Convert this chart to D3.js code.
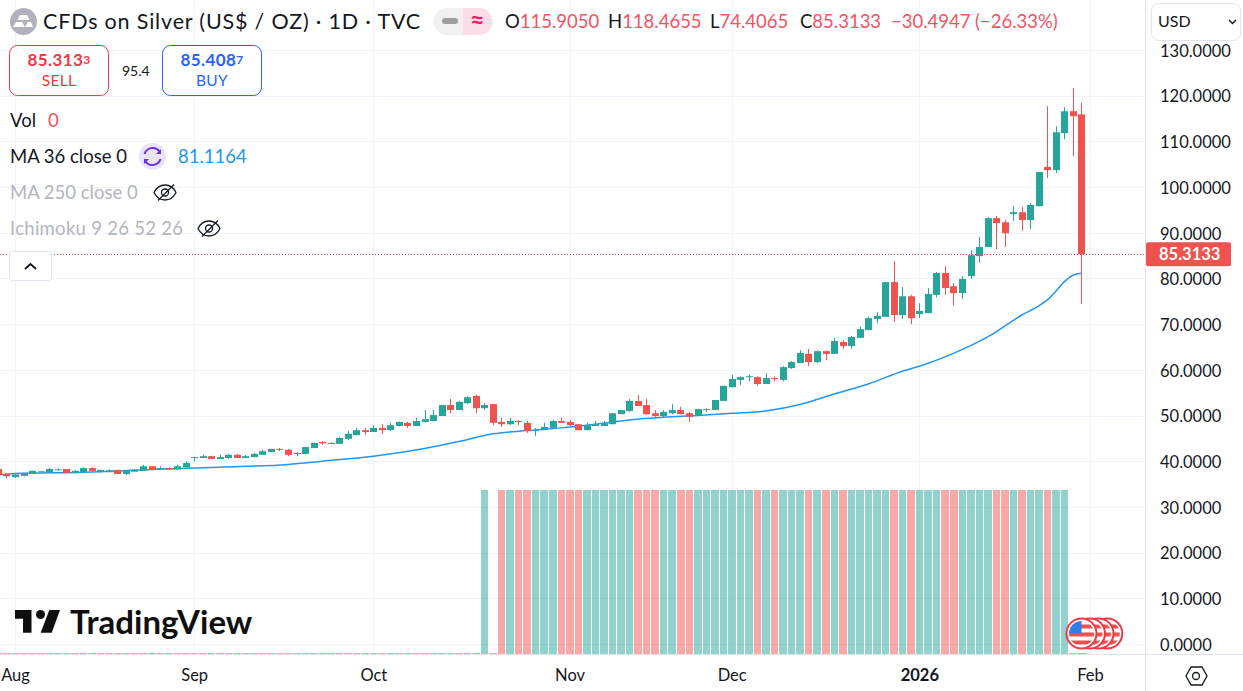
<!DOCTYPE html>
<html lang="en">

<head>
    <meta charset="UTF-8">
    <title>CFDs on Silver</title>
    <script src="https://cdn.jsdelivr.net/npm/d3@7/dist/d3.min.js"></script>
    <style>
        html, body {
            margin: 0;
            padding: 0;
            background: #fff;
            overflow: hidden;
        }

        svg {
            display: block;
        }

        text {
            font-family: Lato, "Noto Sans", sans-serif;
            fill: #131722;
        }

        .tick text {
            font-size: 16.5px;
        }
    </style>
</head>

<body>
    <script>
        // bar number 0 is 1 Aug 2025, the last one is 30 Jan 2026
        const barNumbers = d3.range(-2, 126);

        const opens = [
            38.3, 37.2, 36.5, 36.8, 37.3, 37.6, 37.6, 38.1, 38.3, 37.4,
            37.6, 38.5, 37.7, 37.6, 38.1, 37.2, 37.7, 37.9, 38.9, 38.3,
            38.5, 38.2, 38.7, 40.8, 40.7, 41.1, 40.5, 40.7, 41.4, 40.7,
            40.9, 41.4, 42.0, 42.7, 42.5, 41.6, 41.6, 42.9, 44.2, 44.0,
            43.8, 44.9, 45.7, 46.8, 46.4, 47.3, 46.8, 47.7, 48.4, 47.7,
            48.6, 48.8, 49.9, 52.3, 51.2, 52.7, 54.3, 51.6, 52.5, 48.6,
            48.1, 48.8, 48.4, 46.6, 46.8, 47.3, 48.8, 48.6, 48.1, 46.8,
            47.7, 47.7, 48.1, 50.3, 51.0, 53.2, 52.3, 50.5, 49.9, 50.5,
            51.2, 50.5, 49.9, 51.2, 51.2, 53.2, 56.2, 57.8, 58.4, 58.4,
            56.9, 58.2, 57.8, 60.4, 61.5, 63.5, 61.7, 64.1, 63.5, 66.1,
            65.2, 67.0, 68.7, 71.1, 71.6, 79.2, 72.0, 76.1, 72.2, 72.4,
            76.4, 81.2, 78.3, 76.8, 80.5, 84.9, 86.9, 93.2, 92.3, 94.1,
            94.5, 92.8, 95.8, 104.4, 103.7, 111.8, 116.6, 115.905
        ];
        const highs = [
            38.5, 37.3, 37.2, 37.4, 37.9, 37.8, 38.5, 38.5, 38.3, 38.1,
            38.7, 38.7, 38.1, 38.2, 38.1, 37.9, 38.3, 39.2, 38.9, 38.9,
            38.7, 39.2, 40.0, 41.0, 41.4, 41.2, 41.4, 41.6, 41.6, 41.4,
            41.8, 42.5, 42.7, 42.9, 42.7, 42.0, 43.2, 44.1, 44.4, 44.2,
            45.3, 46.6, 47.3, 47.3, 47.9, 48.1, 48.4, 48.7, 48.6, 49.5,
            51.2, 51.2, 52.3, 53.6, 53.2, 54.3, 54.5, 52.7, 52.6, 49.5,
            49.5, 49.0, 48.8, 47.3, 48.4, 49.0, 49.5, 49.0, 48.2, 48.4,
            48.8, 48.8, 50.5, 51.2, 53.6, 54.5, 53.6, 51.2, 51.2, 52.5,
            51.9, 50.8, 51.5, 51.6, 53.4, 56.5, 58.9, 58.6, 58.9, 58.6,
            59.3, 58.6, 60.8, 61.9, 64.3, 64.6, 64.2, 64.2, 67.0, 66.5,
            67.4, 69.4, 71.6, 72.6, 79.2, 83.8, 78.1, 76.4, 74.6, 77.9,
            81.4, 82.7, 79.0, 80.5, 86.2, 89.1, 93.4, 93.7, 92.8, 95.8,
            95.6, 96.5, 103.3, 117.7, 113.3, 117.5, 121.7, 118.4655
        ];
        const lows = [
            36.9, 36.3, 36.3, 36.7, 37.3, 37.6, 37.6, 38.0, 37.4, 37.4,
            37.5, 37.8, 37.5, 37.6, 37.2, 37.0, 37.7, 37.9, 38.3, 38.3,
            38.1, 38.2, 38.7, 40.0, 40.7, 40.5, 40.5, 40.5, 40.7, 40.7,
            40.9, 41.4, 42.0, 42.2, 41.1, 41.1, 41.5, 42.9, 43.6, 43.8,
            43.8, 44.6, 45.7, 45.7, 46.4, 46.0, 46.6, 47.6, 47.3, 47.7,
            48.5, 48.8, 49.9, 50.5, 51.2, 52.5, 50.5, 51.2, 47.9, 47.5,
            47.9, 47.9, 46.2, 45.5, 46.8, 47.3, 48.4, 47.7, 46.8, 46.8,
            47.7, 47.7, 48.1, 50.3, 50.8, 52.1, 50.1, 49.7, 49.5, 50.3,
            50.3, 48.6, 49.9, 50.8, 51.2, 53.2, 56.2, 56.7, 57.5, 56.5,
            56.9, 57.5, 57.5, 60.2, 61.5, 60.8, 61.5, 62.1, 63.5, 64.6,
            64.6, 67.0, 68.7, 70.2, 71.6, 70.5, 71.1, 70.0, 71.3, 72.4,
            75.9, 76.4, 74.0, 75.5, 79.9, 83.4, 86.9, 86.4, 86.9, 92.6,
            90.4, 90.8, 95.8, 102.0, 103.1, 110.5, 106.8, 74.4065
        ];
        const closes = [
            37.0, 36.7, 37.1, 37.4, 37.9, 37.8, 38.3, 38.2, 37.4, 37.9,
            38.5, 37.9, 38.1, 38.0, 37.2, 37.9, 38.1, 38.9, 38.3, 38.5,
            38.2, 38.9, 39.6, 40.9, 41.1, 40.5, 40.9, 41.4, 40.7, 41.1,
            41.6, 42.2, 42.7, 42.5, 41.4, 41.8, 43.1, 44.0, 43.9, 43.9,
            45.1, 46.0, 46.8, 46.4, 47.3, 46.8, 47.9, 48.6, 47.7, 48.8,
            49.2, 50.1, 52.3, 51.2, 53.0, 54.0, 51.6, 52.3, 48.4, 48.1,
            48.8, 48.6, 46.6, 46.8, 47.5, 48.8, 48.4, 47.9, 46.8, 47.9,
            48.1, 48.3, 50.5, 51.2, 53.2, 52.1, 50.3, 49.9, 50.8, 51.2,
            50.3, 49.7, 51.4, 51.4, 53.4, 56.5, 58.0, 58.4, 58.6, 56.9,
            58.2, 58.0, 60.6, 61.7, 63.7, 61.7, 64.1, 63.5, 66.3, 65.2,
            67.2, 68.9, 71.3, 71.8, 79.2, 72.0, 76.1, 71.3, 72.9, 76.6,
            81.2, 77.9, 76.8, 79.9, 85.1, 86.9, 93.2, 92.1, 89.9, 94.5,
            92.8, 96.1, 103.3, 103.7, 112.0, 116.6, 115.5, 85.3133
        ];
        // the broker reports flat tick volume: either nothing or a full bar
        const volumes = [
            0, 0, 0, 0, 0, 0, 0, 0, 0, 0,
            0, 0, 0, 0, 0, 0, 0, 0, 0, 0,
            0, 0, 0, 0, 0, 0, 0, 0, 0, 0,
            0, 0, 0, 0, 0, 0, 0, 0, 0, 0,
            0, 0, 0, 0, 0, 0, 0, 0, 0, 0,
            0, 0, 0, 0, 0, 0, 0, 1, 0, 1,
            1, 1, 1, 1, 1, 1, 1, 1, 1, 1,
            1, 1, 1, 1, 1, 1, 1, 1, 1, 1,
            1, 1, 1, 1, 1, 1, 1, 1, 1, 1,
            1, 1, 1, 1, 1, 1, 1, 1, 1, 1,
            1, 1, 1, 1, 1, 1, 1, 1, 1, 1,
            1, 1, 1, 1, 1, 1, 1, 1, 1, 1,
            1, 1, 1, 1, 1, 1, 0, 0
        ];

        const maBars = [-2, 0, 8, 16, 24, 32, 36, 42, 48, 52, 56, 60, 64, 68, 72, 76, 80, 84, 88, 92, 96, 100, 104, 106, 110, 114, 118, 120, 121, 122, 123, 124, 125];
        const maValues = [37.0, 37.3, 37.6, 38.2, 38.7, 39.3, 40.0, 41.1, 42.8, 44.3, 46.0, 46.7, 47.3, 48.1, 49.0, 49.6, 50.0, 50.5, 51.0, 52.4, 54.7, 56.9, 59.7, 60.8, 63.6, 67.2, 72.0, 74.0, 75.3, 77.2, 79.3, 80.7, 81.1164];

        const priceTicks = [0, 10, 20, 30, 40, 50, 60, 70, 80, 90, 100, 110, 120, 130];
        const timeTickBars = [0, 21, 42, 65, 84, 106, 126];
        const timeTickLabels = ["Aug", "Sep", "Oct", "Nov", "Dec", "2026", "Feb"];
        const lastPrice = 85.3133;

        const width = 1243, height = 691;
        const plotRight = 1145, plotBottom = 654;
        const upColor = "#26a69a", downColor = "#ef5350";
        const gridColor = "#f0f3fa", borderColor = "#e0e3eb";

        const svg = d3.select("body").append("svg")
            .attr("width", width)
            .attr("height", height);

        const xscale = d3.scaleLinear().domain([0, 126]).range([15, 1090]);
        const yscale = d3.scaleLinear().domain([0, 130]).range([644, 50]);
        const volscale = d3.scaleLinear().domain([0, 1]).range([654, 490]);

        const bars = barNumbers.map((n, i) => ({
            n, open: opens[i], high: highs[i], low: lows[i], close: closes[i], vol: volumes[i]
        }));
        const barColor = d => d.close >= d.open ? upColor : downColor;

        // grid
        svg.append("g").selectAll("line").data(priceTicks).enter().append("line")
            .attr("x1", 0).attr("x2", plotRight)
            .attr("y1", d => Math.round(yscale(d)) + 0.5).attr("y2", d => Math.round(yscale(d)) + 0.5)
            .attr("stroke", gridColor);
        svg.append("g").selectAll("line").data(timeTickBars).enter().append("line")
            .attr("x1", d => Math.round(xscale(d)) + 0.5).attr("x2", d => Math.round(xscale(d)) + 0.5)
            .attr("y1", 0).attr("y2", plotBottom)
            .attr("stroke", gridColor);

        // volume, snapped to whole pixels so a one pixel gap stays between bars
        const volLeft = n => Math.round(xscale(n) - 3.5);
        svg.append("g").selectAll("rect").data(bars).enter().append("rect")
            .attr("x", d => volLeft(d.n))
            .attr("width", d => volLeft(d.n + 1) - volLeft(d.n) - 1)
            .attr("y", d => d.vol > 0 ? volscale(d.vol) : plotBottom - 1)
            .attr("height", d => d.vol > 0 ? plotBottom - volscale(d.vol) : 1)
            .attr("fill", barColor)
            .attr("opacity", 0.5);

        // moving average
        const maLine = d3.line()
            .x(d => xscale(d[0]))
            .y(d => yscale(d[1]))
            .curve(d3.curveMonotoneX);
        svg.append("path")
            .attr("d", maLine(maBars.map((b, i) => [b, maValues[i]])))
            .attr("fill", "none")
            .attr("stroke", "#2196f3")
            .attr("stroke-width", 1.5);

        // candles
        const candles = svg.append("g").selectAll("g").data(bars).enter().append("g");
        candles.append("rect")
            .attr("x", d => Math.round(xscale(d.n)))
            .attr("width", 1)
            .attr("y", d => yscale(d.high))
            .attr("height", d => yscale(d.low) - yscale(d.high))
            .attr("fill", barColor);
        candles.append("rect")
            .attr("x", d => Math.round(xscale(d.n)) - 3)
            .attr("width", 7)
            .attr("y", d => yscale(Math.max(d.open, d.close)))
            .attr("height", d => Math.max(1, Math.abs(yscale(d.open) - yscale(d.close))))
            .attr("fill", barColor);

        // last price line
        svg.append("line")
            .attr("x1", 0).attr("x2", plotRight)
            .attr("y1", Math.floor(yscale(lastPrice)) + 0.5).attr("y2", Math.floor(yscale(lastPrice)) + 0.5)
            .attr("stroke", "#f23645")
            .attr("stroke-dasharray", "1 2");

        // axes
        const yaxis = d3.axisRight(yscale)
            .tickValues(priceTicks)
            .tickFormat(d => d.toFixed(4))
            .tickSize(0)
            .tickPadding(0);
        svg.append("g").attr("transform", "translate(1160,1)").call(yaxis)
            .call(g => g.select(".domain").remove());

        const xaxis = d3.axisBottom(xscale)
            .tickValues(timeTickBars)
            .tickFormat((d, i) => timeTickLabels[i])
            .tickSize(0)
            .tickPadding(0);
        svg.append("g").attr("transform", "translate(0,669)").call(xaxis)
            .call(g => g.select(".domain").remove())
            .selectAll("text")
            .style("font-weight", (d, i) => timeTickLabels[i] === "2026" ? "700" : "400");

        svg.append("line").attr("x1", 0).attr("x2", width).attr("y1", plotBottom + 0.5).attr("y2", plotBottom + 0.5).attr("stroke", borderColor);
        svg.append("line").attr("x1", plotRight + 0.5).attr("x2", plotRight + 0.5).attr("y1", 0).attr("y2", height).attr("stroke", borderColor);

        // price tag
        svg.append("rect").attr("x", 1146).attr("y", yscale(lastPrice) - 12).attr("width", 85).attr("height", 24).attr("rx", 2).attr("fill", "#f0534f");
        svg.append("text").attr("x", 1159).attr("y", yscale(lastPrice) + 6).text("85.3133")
            .style("fill", "#fff").style("font-size", "16.5px").style("font-weight", "700");

        // currency box
        svg.append("rect").attr("x", 1151.5).attr("y", 3.5).attr("width", 89).attr("height", 37).attr("rx", 7).attr("fill", "#fff").attr("stroke", borderColor);
        svg.append("text").attr("x", 1158).attr("y", 27).text("USD").style("font-size", "16px");
        svg.append("path").attr("d", "M1229 20l3.5 3.5l3.5 -3.5").attr("fill", "none").attr("stroke", "#131722").attr("stroke-width", 1.5);

        // settings hexagon
        svg.append("path").attr("d", "M1186 676l5 -9h11l5 9l-5 9h-11z").attr("fill", "none").attr("stroke", "#131722").attr("stroke-width", 1.3);
        svg.append("circle").attr("cx", 1196).attr("cy", 676).attr("r", 3.5).attr("fill", "none").attr("stroke", "#131722").attr("stroke-width", 1.3);

        // legend: title row
        const label = (x, y, str, size, color, weight) => svg.append("text")
            .attr("x", x).attr("y", y).text(str)
            .style("font-size", size + "px")
            .style("fill", color)
            .style("font-weight", weight || 400);

        svg.append("circle").attr("cx", 23.5).attr("cy", 21.5).attr("r", 13.5).attr("fill", "#b2b0bd");
        svg.append("path").attr("d", "M20 15h7l2.5 5h-12zM13 27l3 -5h6l3 5zM25 27l3 -5h3l2 5z").attr("fill", "#fff");
        label(43, 29, "CFDs on Silver (US$ / OZ) · 1D · TVC", 21.5, "#131722").style("letter-spacing", "0.82px");

        svg.append("path").attr("d", "M463 8h-16a13.5 13.5 0 0 0 0 27h16z").attr("fill", "#f0f0f0");
        svg.append("path").attr("d", "M463 8h16a13.5 13.5 0 0 1 0 27h-16z").attr("fill", "#fbdde8");
        svg.append("rect").attr("x", 442).attr("y", 18).attr("width", 16).attr("height", 6).attr("rx", 3).attr("fill", "#9e9e9e");
        label(470, 29, "≈", 25, "#e91e63", 700);

        const downText = "#f7525f";
        [[505, "O", "115.9050"], [608, "H", "118.4655"], [710, "L", "74.4065"], [800, "C", "85.3133"]].forEach(d => {
            const t = label(d[0], 28, d[1], 18.5, "#131722");
            t.append("tspan").text(d[2]).style("fill", downText);
        });
        label(891, 28, "−30.4947", 18.5, downText);
        label(975, 28, "(−26.33%)", 18.5, downText);

        // sell and buy boxes
        const tradeBox = (x, color, price, tail, word) => {
            svg.append("rect").attr("x", x + 0.5).attr("y", 45.5).attr("width", 99).attr("height", 50).attr("rx", 8)
                .attr("fill", "#fff").attr("stroke", color);
            const p = label(x + 50, 66, price, 17, color, 700).attr("text-anchor", "middle").style("letter-spacing", "0.4px");
            p.append("tspan").text(tail).attr("dy", -2).style("font-size", "12px").style("fill", color);
            label(x + 50, 86, word, 15.5, color, 400).attr("text-anchor", "middle").style("letter-spacing", "0.3px");
        };
        tradeBox(9, "#f23645", "85.313", "3", "SELL");
        tradeBox(162, "#2962ff", "85.408", "7", "BUY");
        label(122, 76, "95.4", 14, "#131722");

        // indicator rows
        label(10, 127, "Vol", 18.5, "#131722");
        label(48, 127, "0", 18.5, "#f7525f");
        label(10, 163, "MA 36 close 0", 18.5, "#131722");
        svg.append("circle").attr("cx", 152.5).attr("cy", 156.5).attr("r", 13.5).attr("fill", "#e9e3fb");
        svg.append("path")
            .attr("d", "M144.5 154a8.5 8.5 0 0 1 15 -2.5M160.5 159a8.5 8.5 0 0 1 -15 2.5")
            .attr("fill", "none").attr("stroke", "#6a2ee8").attr("stroke-width", 2);
        svg.append("path").attr("d", "M161 149v5h-5zM144 164v-5h5z").attr("fill", "#6a2ee8");
        label(178, 163, "81.1164", 18.5, "#2196f3");
        label(10, 199, "MA 250 close 0", 18.5, "#b2b5be");
        label(10, 235, "Ichimoku 9 26 52 26", 18.5, "#b2b5be").style("letter-spacing", "0.28px");

        const hiddenEye = (cx, cy) => {
            svg.append("path")
                .attr("d", `M${cx - 11} ${cy}c5 -10 17 -10 22 0c-5 10 -17 10 -22 0z`)
                .attr("fill", "none").attr("stroke", "#131722").attr("stroke-width", 1.3);
            svg.append("circle").attr("cx", cx).attr("cy", cy).attr("r", 3.5).attr("fill", "none").attr("stroke", "#131722").attr("stroke-width", 1.3);
            svg.append("line").attr("x1", cx - 7).attr("y1", cy + 8).attr("x2", cx + 9).attr("y2", cy - 8).attr("stroke", "#131722").attr("stroke-width", 1.3);
        };
        hiddenEye(165, 192.5);
        hiddenEye(209, 228.5);

        // collapse button
        svg.append("rect").attr("x", 9.5).attr("y", 251.5).attr("width", 42).attr("height", 29).attr("rx", 3).attr("fill", "#fff").attr("stroke", borderColor);
        svg.append("path").attr("d", "M25 269l5.5 -5l5.5 5").attr("fill", "none").attr("stroke", "#131722").attr("stroke-width", 1.8);

        // logo
        svg.append("path").attr("d", "M15 610h16.5v22.7h-8.5v-14h-8zM49.3 610h10.7l-8.3 22.7h-11z").attr("fill", "#0f0f0f");
        svg.append("circle").attr("cx", 40.5).attr("cy", 614.5).attr("r", 4.5).attr("fill", "#0f0f0f");
        label(70, 633.5, "TradingView", 33, "#0f0f0f", 700);

        // event flags, rightmost first so the front one ends on top
        const flags = svg.append("g");
        const clip = svg.append("defs").append("clipPath").attr("id", "flagClip");
        clip.append("circle").attr("r", 12.5);
        [1107.3, 1098.5, 1090, 1081.5].forEach(cx => {
            const f = flags.append("g").attr("transform", `translate(${cx},633.5)`);
            f.append("circle").attr("r", 15).attr("fill", "#fff").attr("stroke", "#f23645").attr("stroke-width", 2);
            const inner = f.append("g").attr("clip-path", "url(#flagClip)");
            inner.append("rect").attr("x", -13).attr("y", -13).attr("width", 26).attr("height", 26).attr("fill", "#fff");
            [-9, -1, 7].forEach(y => inner.append("rect").attr("x", -13).attr("y", y).attr("width", 26).attr("height", 4).attr("fill", "#f0534f"));
            if (cx === 1081.5) {
                inner.append("rect").attr("x", -13).attr("y", -13).attr("width", 13).attr("height", 13).attr("fill", "#2e7de9");
            }
        });
    </script>
</body>

</html>
